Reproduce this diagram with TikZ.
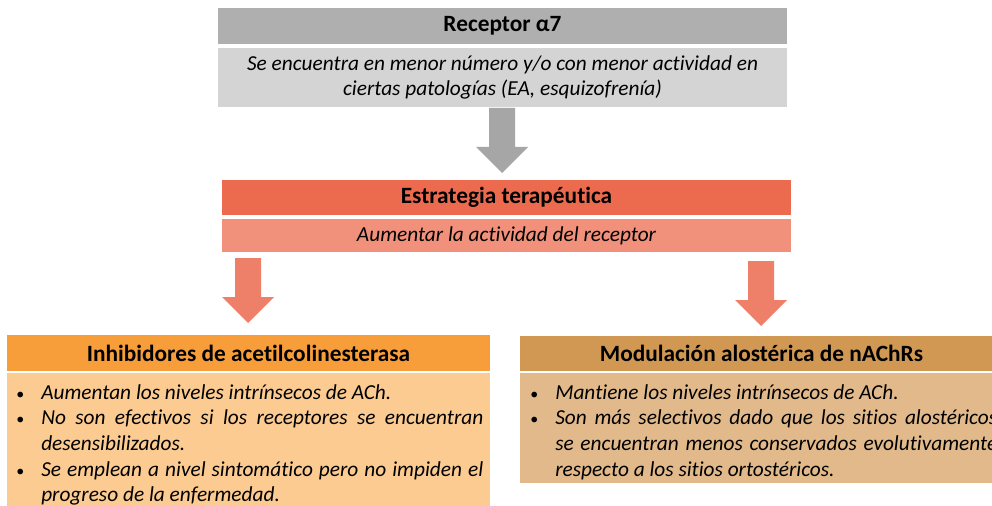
\documentclass[tikz,border=0pt]{standalone}
\usepackage{fontspec}
\setmainfont{Carlito}[Ligatures={NoCommon}]
\usetikzlibrary{calc}
\definecolor{grayhdr}{HTML}{AFAFAF}
\definecolor{graybody}{HTML}{D4D4D4}
\definecolor{grayarrow}{HTML}{A6A6A6}
\definecolor{redhdr}{HTML}{EC6B4F}
\definecolor{redbody}{HTML}{F1917B}
\definecolor{redarrow}{HTML}{EE8069}
\definecolor{orghdr}{HTML}{F79E3B}
\definecolor{orgbody}{HTML}{FBCB92}
\definecolor{brnhdr}{HTML}{D19853}
\definecolor{brnbody}{HTML}{E1B98A}
\newcommand{\blkarrow}[5]{% color, cx, top, base, tip
  \fill[#1] ($(#2,#3)+(-13,0)$) -- ($(#2,#3)+(13,0)$) -- ($(#2,#4)+(13,0)$) -- ($(#2,#4)+(26,0)$)
    -- (#2,#5) -- ($(#2,#4)+(-26,0)$) -- ($(#2,#4)+(-13,0)$) -- cycle;}
\newcommand{\bitem}[1]{\par\noindent\hangindent=20.25pt\hangafter=1\makebox[20.25pt][l]{\hspace{1.5pt}{\upshape\fontsize{12}{12}\selectfont\textbullet}}#1\par}
\newcommand{\nohyph}{\hyphenpenalty=10000\relax\exhyphenpenalty=10000\relax}
\begin{document}
\begin{tikzpicture}[x=0.75pt,y=-0.75pt,
  box/.style={inner sep=0pt, outer sep=0pt, draw=none},
  hdrtext/.style={font=\fontsize{17.5}{20}\selectfont\bfseries},
  bodytext/.style={font=\fontsize{16}{18.75}\selectfont\itshape},
  listtext/.style={inner sep=0pt, anchor=north west, text width=351.75pt, align=justify,
     font=\fontsize{16}{19.3}\selectfont\itshape}]
\clip (0,0) rectangle (992,506);
\fill[white] (0,0) rectangle (992,506);
% top
\node[box, fill=grayhdr, minimum width=426.75pt, minimum height=27pt, hdrtext] (rec) at (502.5,26) {Receptor α7};
\node[box, fill=graybody, minimum width=426.75pt, minimum height=44.25pt, bodytext, align=center] (recb) at (502.5,77.5)
  {Se encuentra en menor número y/o con menor actividad en\\ciertas patologías (EA, esquizofrenía)};
% strategy
\node[box, fill=redhdr, minimum width=426.75pt, minimum height=26.25pt, hdrtext] (est) at (506.5,197.5) {Estrategia terapéutica};
\node[box, fill=redbody, minimum width=426.75pt, minimum height=24.75pt, bodytext] (estb) at (506.5,235.5) {Aumentar la actividad del receptor};
% left
\node[box, fill=orghdr, minimum width=362.25pt, minimum height=27pt, hdrtext] (inh) at (248.5,353) {Inhibidores de acetilcolinesterasa};
\node[box, fill=orgbody, minimum width=362.25pt, minimum height=100.5pt] (inhb) at (248.5,440) {};
\node[listtext] (inht) at (14,373) {\nohyph%
  \bitem{Aumentan los niveles intrínsecos de ACh.}%
  \bitem{No son efectivos si los receptores se encuentran\linebreak desensibilizados.}%
  \bitem{Se emplean a nivel sintomático pero no impiden el\linebreak progreso de la enfermedad.}};
% right
\node[box, fill=brnhdr, minimum width=362.25pt, minimum height=26.25pt, hdrtext] (mod) at (761.5,353.5) {Modulación alostérica de nAChRs};
\node[box, fill=brnbody, minimum width=362.25pt, minimum height=82.5pt] (modb) at (761.5,428) {};
\node[listtext] (modt) at (528,373) {\nohyph%
  \bitem{Mantiene los niveles intrínsecos de ACh.}%
  \bitem{Son más selectivos dado que los sitios alostéricos\linebreak se encuentran menos conservados evolutivamente\linebreak respecto a los sitios ortostéricos.}};
% arrows
\blkarrow{grayarrow}{502}{108}{147}{173}
\blkarrow{redarrow}{248}{258}{297}{323}
\blkarrow{redarrow}{761}{261}{300}{326}
\end{tikzpicture}
\end{document}
